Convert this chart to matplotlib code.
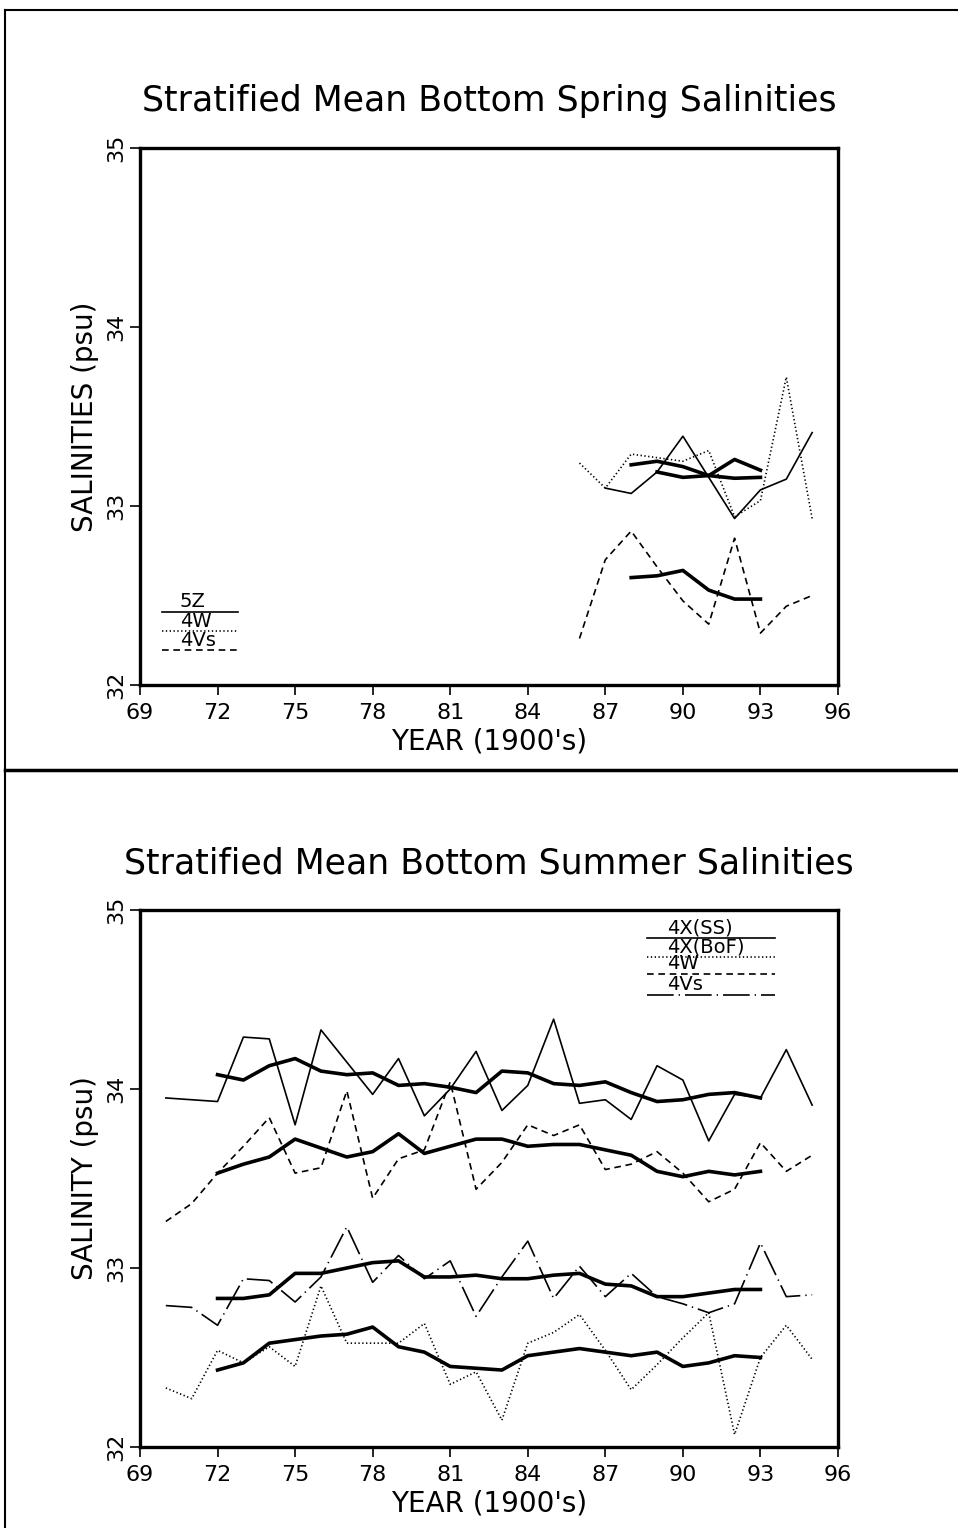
import matplotlib
matplotlib.use("Agg")
import matplotlib.pyplot as plt
from matplotlib.lines import Line2D

plt.rcParams['font.family'] = ['DejaVu Sans']

# ---- Spring (top panel) ----
spring_years = [86, 87, 88, 89, 90, 91, 92, 93, 94, 95]
spring_5z_years = [87, 88, 89, 90, 91, 92, 93, 94, 95]
spring_5z = [33.10, 33.07, 33.19, 33.39, 33.16, 32.93, 33.09, 33.15, 33.41]
spring_4w = [33.24, 33.10, 33.29, 33.27, 33.25, 33.31, 32.94, 33.03, 33.72, 32.93]
spring_4vs = [32.26, 32.70, 32.86, 32.66, 32.47, 32.34, 32.82, 32.29, 32.44, 32.50]

# 5-year running means
spring_5z_rm_years = [89, 90, 91, 92, 93]
spring_5z_rm = [33.19, 33.16, 33.17, 33.155, 33.16]
spring_4w_rm_years = [88, 89, 90, 91, 92, 93]
spring_4w_rm = [33.23, 33.25, 33.22, 33.17, 33.26, 33.20]
spring_4vs_rm_years = [88, 89, 90, 91, 92, 93]
spring_4vs_rm = [32.60, 32.61, 32.64, 32.53, 32.48, 32.48]

# ---- Summer (bottom panel) ----
summer_years = list(range(70, 96))
summer_4xss = [33.95, 33.94, 33.93, 34.29, 34.28, 33.80, 34.33, 34.15, 33.97,
               34.17, 33.85, 34.00, 34.21, 33.88, 34.02, 34.39, 33.92, 33.94,
               33.83, 34.13, 34.05, 33.71, 33.97, 33.95, 34.22, 33.91]
summer_4xbof = [32.33, 32.27, 32.54, 32.47, 32.56, 32.45, 32.90, 32.58, 32.58,
                32.58, 32.69, 32.35, 32.42, 32.15, 32.58, 32.64, 32.74, 32.54,
                32.32, 32.46, 32.61, 32.75, 32.07, 32.50, 32.68, 32.49]
summer_4w = [33.26, 33.36, 33.53, 33.68, 33.84, 33.53, 33.56, 33.99, 33.39,
             33.61, 33.66, 34.04, 33.44, 33.59, 33.80, 33.74, 33.80, 33.55,
             33.58, 33.65, 33.53, 33.37, 33.44, 33.70, 33.54, 33.63]
summer_4vs = [32.79, 32.78, 32.68, 32.94, 32.93, 32.81, 32.95, 33.23, 32.92,
              33.07, 32.94, 33.04, 32.73, 32.95, 33.15, 32.83, 33.01, 32.84,
              32.97, 32.84, 32.80, 32.75, 32.80, 33.14, 32.84, 32.85]

summer_rm_years = list(range(72, 94))
summer_4xss_rm = [34.08, 34.05, 34.13, 34.17, 34.10, 34.08, 34.09, 34.02, 34.03,
                  34.01, 33.98, 34.10, 34.09, 34.03, 34.02, 34.04, 33.98, 33.93,
                  33.94, 33.97, 33.98, 33.95]
summer_4xbof_rm = [32.43, 32.47, 32.58, 32.60, 32.62, 32.63, 32.67, 32.56, 32.53,
                   32.45, 32.44, 32.43, 32.51, 32.53, 32.55, 32.53, 32.51, 32.53,
                   32.45, 32.47, 32.51, 32.50]
summer_4w_rm = [33.53, 33.58, 33.62, 33.72, 33.67, 33.62, 33.65, 33.75, 33.64,
                33.68, 33.72, 33.72, 33.68, 33.69, 33.69, 33.66, 33.63, 33.54,
                33.51, 33.54, 33.52, 33.54]
summer_4vs_rm = [32.83, 32.83, 32.85, 32.97, 32.97, 33.00, 33.03, 33.04, 32.95,
                 32.95, 32.96, 32.94, 32.94, 32.96, 32.97, 32.91, 32.90, 32.84,
                 32.84, 32.86, 32.88, 32.88]

x_ticks = [69, 72, 75, 78, 81, 84, 87, 90, 93, 96]
y_ticks = [32, 33, 34, 35]

THIN = 1.2
THICK = 2.6
SOLID = '-'
DOTTED = (0, (0.8, 1.5))
DASHED = (0, (4.0, 2.8))
DASHDOT = (0, (16, 3, 0.8, 3))

W, H = 958, 1528
fig = plt.figure(figsize=(W / 100, H / 100), dpi=100)
fig.patch.set_facecolor('white')


def axes_rect(left_px, top_px, right_px, bottom_px):
    return [left_px / W, 1 - bottom_px / H, (right_px - left_px) / W,
            (bottom_px - top_px) / H]


def style_axes(ax, title, ylabel):
    ax.set_xlim(69, 96)
    ax.set_ylim(32, 35)
    ax.set_xticks(x_ticks)
    ax.set_yticks(y_ticks)
    ax.set_xticklabels([str(t) for t in x_ticks])
    ax.set_yticklabels([str(t) for t in y_ticks], rotation=90, va='center')
    for s in ax.spines.values():
        s.set_linewidth(2.4)
    ax.tick_params(axis='both', direction='out', length=7, width=1.2,
                   labelsize=16)
    ax.tick_params(axis='x', pad=6)
    ax.tick_params(axis='y', pad=3)
    ax.set_xlabel("YEAR (1900's)", fontsize=20, labelpad=3)
    ax.set_ylabel(ylabel, fontsize=20, labelpad=5)
    ax.text(0.5, 1.055, title, transform=ax.transAxes, ha='center',
            va='bottom', fontsize=25)


# Top panel: spring
ax1 = fig.add_axes(axes_rect(140, 148, 838, 685))
ax1.plot(spring_5z_years, spring_5z, color='black', lw=THIN, ls=SOLID)
ax1.plot(spring_years, spring_4w, color='black', lw=THIN, ls=DOTTED)
ax1.plot(spring_years, spring_4vs, color='black', lw=THIN, ls=DASHED)
ax1.plot(spring_5z_rm_years, spring_5z_rm, color='black', lw=THICK)
ax1.plot(spring_4w_rm_years, spring_4w_rm, color='black', lw=THICK)
ax1.plot(spring_4vs_rm_years, spring_4vs_rm, color='black', lw=THICK)
style_axes(ax1, 'Stratified Mean Bottom Spring Salinities', 'SALINITIES (psu)')

# Top legend: label above each line sample
top_legend = [('5Z', SOLID), ('4W', DOTTED), ('4Vs', DASHED)]
top_ys = [0.136, 0.100, 0.065]
for (lab, ls), yy in zip(top_legend, top_ys):
    ax1.add_line(Line2D([0.032, 0.140], [yy, yy], transform=ax1.transAxes,
                        color='black', lw=THIN, ls=ls))
    ax1.text(0.057, yy + 0.001, lab, transform=ax1.transAxes, ha='left',
             va='bottom', fontsize=14)

# Bottom panel: summer
ax2 = fig.add_axes(axes_rect(140, 910, 838, 1447))
ax2.plot(summer_years, summer_4xss, color='black', lw=THIN, ls=SOLID)
ax2.plot(summer_years, summer_4xbof, color='black', lw=THIN, ls=DOTTED)
ax2.plot(summer_years, summer_4w, color='black', lw=THIN, ls=DASHED)
ax2.plot(summer_years, summer_4vs, color='black', lw=THIN, ls=DASHDOT)
for series in (summer_4xss_rm, summer_4xbof_rm, summer_4w_rm, summer_4vs_rm):
    ax2.plot(summer_rm_years, series, color='black', lw=THICK)
style_axes(ax2, 'Stratified Mean Bottom Summer Salinities', 'SALINITY (psu)')

bottom_legend = [('4X(SS)', SOLID), ('4X(BoF)', DOTTED), ('4W', DASHED),
                 ('4Vs', DASHDOT)]
bottom_ys = [0.948, 0.913, 0.881, 0.842]
for (lab, ls), yy in zip(bottom_legend, bottom_ys):
    ax2.add_line(Line2D([0.726, 0.910], [yy, yy], transform=ax2.transAxes,
                        color='black', lw=THIN, ls=ls))
    ax2.text(0.755, yy + 0.001, lab, transform=ax2.transAxes, ha='left',
             va='bottom', fontsize=14)

# Page frame lines
frame_kw = dict(color='black', transform=fig.transFigure)
fig.add_artist(Line2D([5 / W, 1], [1 - 10 / H, 1 - 10 / H], lw=1.5, **frame_kw))
fig.add_artist(Line2D([5 / W, 5 / W], [0, 1 - 10 / H], lw=1.5, **frame_kw))
fig.add_artist(Line2D([5 / W, 1], [1 - 770 / H, 1 - 770 / H], lw=2.5, **frame_kw))

fig.savefig('out.png', dpi=100, facecolor='white')
